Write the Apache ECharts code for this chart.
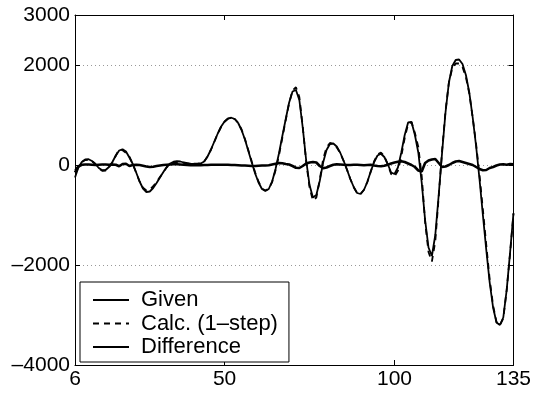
<!DOCTYPE html>
<html>
<head>
<meta charset="utf-8">
<script src="https://cdn.jsdelivr.net/npm/echarts@6/dist/echarts.min.js"></script>
<style>
html,body{margin:0;padding:0;background:#fff;}
#c{width:534px;height:393px;}
</style>
</head>
<body>
<div id="c"></div>
<script>
// sample index range
const xFirst = 6;
const xLast = 135;
const xTickLabels = [6, 50, 100, 135];
const xTickMarks = [50, 100];
const yTickLabels = [-4000, -2000, 0, 2000, 3000];
const seriesNames = ['Given', 'Calc. (1\u2013step)', 'Difference'];

// values for x = 6 .. 135
const given = [
 -250, -50, 60, 110, 115, 80, 20, -60, -105, -100,
 -40, 60, 190, 290, 315, 270, 150, 20, -150, -330,
 -470, -540, -530, -460, -360, -250, -140, -40, 30, 65,
 75, 70, 50, 35, 25, 20, 22, 30, 70, 170,
 310, 470, 630, 770, 870, 930, 945, 920, 840, 700,
 510, 280, 50, -170, -350, -480, -520, -480, -330, -80,
 230, 580, 920, 1250, 1470, 1500, 1300, 750, 100, -400,
 -650, -600, -320, 50, 300, 420, 430, 370, 250, 90,
 -90, -280, -440, -560, -580, -500, -340, -130, 60, 190,
 225, 160, 20, -150, -180, -50, 250, 600, 850, 860,
 600, 250, -350, -1100, -1650, -1820, -1400, -600, 250, 1050,
 1650, 1980, 2100, 2110, 2020, 1800, 1450, 950, 380, -280,
 -1000, -1700, -2350, -2850, -3150, -3200, -3050, -2500, -1750, -960
];
const calc = [
 -100, -20, 55, 100, 105, 75, 20, -65, -115, -110,
 -45, 50, 185, 315, 295, 245, 170, 20, -155, -330,
 -455, -510, -490, -425, -340, -240, -140, -45, 20, 50,
 60, 60, 45, 35, 30, 25, 27, 35, 70, 170,
 305, 465, 625, 765, 865, 925, 945, 920, 845, 710,
 520, 295, 70, -150, -335, -470, -510, -475, -340, -105,
 190, 545, 900, 1240, 1490, 1555, 1360, 770, 70, -450,
 -710, -650, -300, 115, 350, 440, 425, 355, 240, 85,
 -90, -280, -445, -565, -580, -495, -340, -135, 70, 210,
 250, 175, 15, -180, -230, -115, 175, 540, 820, 860,
 640, 360, -220, -1140, -1740, -1930, -1520, -640, 290, 1080,
 1650, 1940, 2030, 2030, 1960, 1760, 1430, 950, 420, -200,
 -895, -1600, -2290, -2810, -3140, -3210, -3065, -2505, -1770, -975
];
const difference = [
 -150, -30, 5, 10, 10, 5, 0, 5, 10, 10,
 5, 10, 5, -25, 20, 25, -20, 0, 5, 0,
 -15, -30, -40, -35, -20, -10, 0, 5, 10, 15,
 15, 10, 5, 0, -5, -5, -5, -5, 0, 0,
 5, 5, 5, 5, 5, 5, 0, 0, -5, -10,
 -10, -15, -20, -20, -15, -10, -10, -5, 10, 25,
 40, 35, 20, 10, -20, -55, -60, -20, 30, 50,
 60, 50, -20, -65, -50, -20, 5, 15, 10, 5,
 0, 0, 5, 5, 0, -5, 0, 5, -10, -20,
 -25, -15, 5, 30, 50, 65, 75, 60, 30, 0,
 -40, -110, -130, 40, 90, 110, 120, 40, -40, -30,
 0, 40, 70, 80, 60, 40, 20, 0, -40, -80,
 -105, -100, -60, -40, -10, 10, 15, 5, 20, 15
];

function pairs(vals) {
  const out = [];
  for (let i = 0; i < vals.length; i++) out.push([xFirst + i, vals[i]]);
  return out;
}
function fmt(v) { return v < 0 ? '\u2013' + String(-v) : String(v); }

const FONT = 'Liberation Sans, Arial, Helvetica, sans-serif';
const chart = echarts.init(document.getElementById('c'), null, {renderer: 'canvas'});
const axisLine = {show: true, onZero: false, lineStyle: {color: '#000', width: 1}};
chart.setOption({
  animation: false,
  backgroundColor: '#fff',
  grid: {left: 75, right: 16, top: 15, bottom: 28, containLabel: false},
  legend: {
    orient: 'vertical',
    left: 80, top: 282,
    padding: [7, 11, 4, 12],
    itemGap: 1.5,
    itemWidth: 36, itemHeight: 14,
    borderColor: '#000', borderWidth: 1, borderRadius: 0,
    backgroundColor: '#fff',
    itemStyle: {opacity: 0},
    textStyle: {fontFamily: FONT, fontSize: 22, color: '#000', padding: [0, 0, 0, 7]},
    data: seriesNames
  },
  xAxis: [{
    type: 'value', min: xFirst, max: xLast, position: 'bottom',
    axisLine: axisLine,
    axisTick: {show: true, inside: true, length: 5, customValues: xTickMarks, lineStyle: {color: '#000'}},
    axisLabel: {show: true, customValues: xTickLabels, fontFamily: FONT, fontSize: 21, color: '#000', margin: 4, formatter: fmt},
    splitLine: {show: false}
  }, {
    type: 'value', min: xFirst, max: xLast, position: 'top',
    axisLine: axisLine,
    axisTick: {show: true, inside: true, length: 5, customValues: xTickMarks, lineStyle: {color: '#000'}},
    axisLabel: {show: false},
    splitLine: {show: false}
  }],
  yAxis: [{
    type: 'value', min: -4000, max: 3000, interval: 2000, position: 'left',
    axisLine: axisLine,
    axisTick: {show: true, inside: true, length: 5, lineStyle: {color: '#000'}},
    axisLabel: {show: true, customValues: yTickLabels, fontFamily: FONT, fontSize: 21, color: '#000', margin: 5, formatter: fmt},
    splitLine: {show: true, lineStyle: {color: '#999', type: [1, 3], width: 1}}
  }, {
    type: 'value', min: -4000, max: 3000, interval: 2000, position: 'right',
    axisLine: axisLine,
    axisTick: {show: true, inside: true, length: 5, lineStyle: {color: '#000'}},
    axisLabel: {show: false},
    splitLine: {show: false}
  }],
  series: [{
    name: seriesNames[0], type: 'line', data: pairs(given), symbol: 'none',
    lineStyle: {color: '#000', width: 1.8}, itemStyle: {color: '#000'}, z: 3
  }, {
    name: seriesNames[1], type: 'line', data: pairs(calc), symbol: 'none',
    lineStyle: {color: '#000', width: 1.8, type: [6, 5]}, itemStyle: {color: '#000'}, z: 4
  }, {
    name: seriesNames[2], type: 'line', data: pairs(difference), symbol: 'none',
    lineStyle: {color: '#000', width: 2.6}, itemStyle: {color: '#000'}, z: 5
  }]
});
</script>
</body>
</html>
